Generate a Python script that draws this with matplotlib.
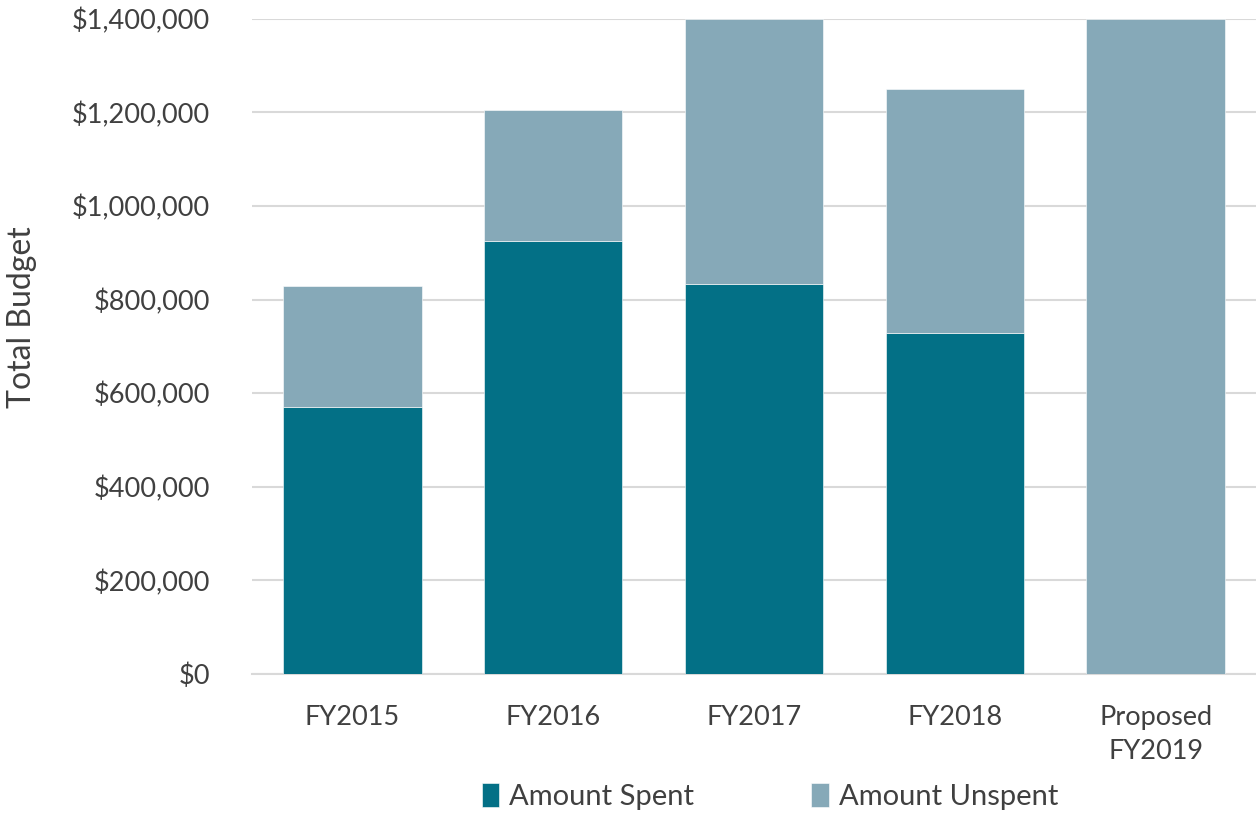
import matplotlib

matplotlib.use("Agg")

import matplotlib.pyplot as plt
import numpy as np
from matplotlib.ticker import FuncFormatter

categories = ["FY2015", "FY2016", "FY2017", "FY2018", "Proposed\nFY2019"]
amount_spent = [570000, 925000, 833000, 728000, 0]
amount_unspent = [260000, 280000, 567000, 521000, 1400000]

SPENT_COLOR = "#037086"
UNSPENT_COLOR = "#86A9B8"
TEXT_COLOR = "#404040"

plt.rcParams["font.family"] = ["Lato", "DejaVu Sans"]

fig = plt.figure(figsize=(12.56, 8.17), dpi=100)
ax = fig.add_axes([0.2006, 0.175, 0.7994, 0.802])

x = np.arange(len(categories))
width = 0.69
ax.bar(x, amount_spent, width, color=SPENT_COLOR, edgecolor="white", linewidth=0.4,
       label="Amount Spent", zorder=3)
ax.bar(x, amount_unspent, width, bottom=amount_spent, color=UNSPENT_COLOR,
       edgecolor="white", linewidth=0.4, label="Amount Unspent", zorder=3)

ax.set_xlim(-0.5, len(categories) - 0.5)
ax.set_ylim(0, 1400000)
ax.set_yticks(np.arange(0, 1400001, 200000))
ax.yaxis.set_major_formatter(FuncFormatter(lambda v, _: f"${v:,.0f}"))
ax.set_xticks(x)
ax.set_xticklabels(categories, linespacing=1.45)

ax.grid(axis="y", color="#D9D9D9", linewidth=1.5, zorder=0)
for side in ["top", "right", "left"]:
    ax.spines[side].set_visible(False)
ax.spines["bottom"].set_color("#D9D9D9")
ax.spines["bottom"].set_linewidth(1.5)
ax.tick_params(axis="both", length=0, labelsize=19.5, colors=TEXT_COLOR)
ax.tick_params(axis="y", pad=30)
ax.tick_params(axis="x", pad=22)

# y label sits a bit above the axes centre in the original
fig.text(22 / 1256, 1 - 317 / 817, "Total Budget", rotation=90, ha="center", va="center",
         fontsize=23, color=TEXT_COLOR)

leg = fig.legend(loc="center", bbox_to_anchor=(0.613, 0.025), ncol=2, frameon=False,
                 fontsize=21, handlelength=0.6, handleheight=0.9, handletextpad=0.35,
                 columnspacing=4.0)
for txt in leg.get_texts():
    txt.set_color(TEXT_COLOR)

fig.savefig("out.png", dpi=100)
